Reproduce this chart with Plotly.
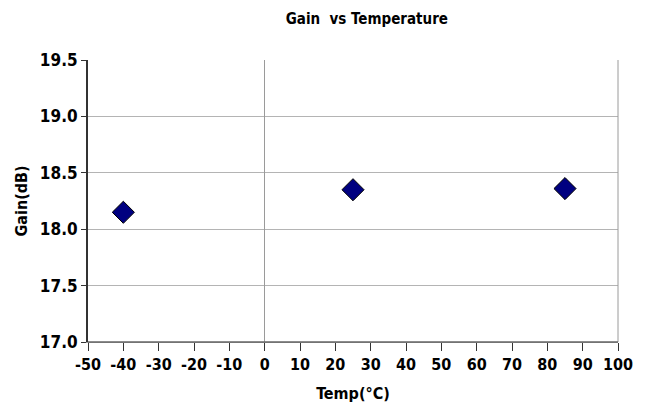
import plotly.graph_objects as go

# Measured gain at three temperatures
temps_c = [-40, 25, 85]
gain_db = [18.15, 18.35, 18.36]

x_ticks = list(range(-50, 101, 10))
y_ticks = [17.0, 17.5, 18.0, 18.5, 19.0, 19.5]

font_family = "Liberation Sans Narrow, DejaVu Sans Condensed, Arial Narrow, sans-serif"

fig = go.Figure()
fig.add_trace(go.Scatter(
    x=temps_c, y=gain_db, mode="markers",
    marker=dict(symbol="diamond", size=17, color="#000080",
                line=dict(color="#000000", width=1)),
    showlegend=False,
))

fig.update_layout(
    width=647, height=415,
    margin=dict(l=88, r=29, t=60, b=73),
    paper_bgcolor="white", plot_bgcolor="white",
    font=dict(family=font_family, color="black", weight="bold"),
    title=dict(text="Gain  vs Temperature", x=0.567, xanchor="center",
               y=0.955, yanchor="middle",
               font=dict(size=15, weight="bold", family=font_family)),
    xaxis=dict(
        range=[-50, 100], tickvals=x_ticks, ticktext=[str(v) for v in x_ticks],
        showgrid=False, zeroline=True, zerolinecolor="#9a9a9a", zerolinewidth=1,
        showline=True, linecolor="#9a9a9a", linewidth=1, mirror=False,
        ticks="outside", ticklen=8, tickcolor="#333333", tickwidth=1,
        tickfont=dict(size=16, family=font_family, weight="bold"),
        title=dict(text="Temp(°C)", font=dict(size=16, weight="bold", family=font_family),
                   standoff=14),
        fixedrange=True,
    ),
    yaxis=dict(
        range=[17.0, 19.5], tickvals=y_ticks, ticktext=[f"{v:.1f}" for v in y_ticks],
        showgrid=True, gridcolor="#b4b4b4", gridwidth=1, zeroline=False,
        showline=True, linecolor="#333333", linewidth=2,
        ticks="outside", ticklen=5, tickcolor="#333333",
        tickfont=dict(size=17, family=font_family, weight="bold"),
        title=dict(text="Gain(dB)", font=dict(size=16, weight="bold", family=font_family),
                   standoff=8),
        fixedrange=True,
    ),
)

# Right-hand frame edge
fig.add_shape(type="line", xref="paper", yref="paper", x0=1, x1=1, y0=0, y1=1,
              line=dict(color="#9a9a9a", width=1))
# Bottom axis line
fig.add_shape(type="line", xref="paper", yref="paper", x0=0, x1=1, y0=0, y1=0,
              line=dict(color="#666666", width=1.5))

fig.write_html("out.html")
